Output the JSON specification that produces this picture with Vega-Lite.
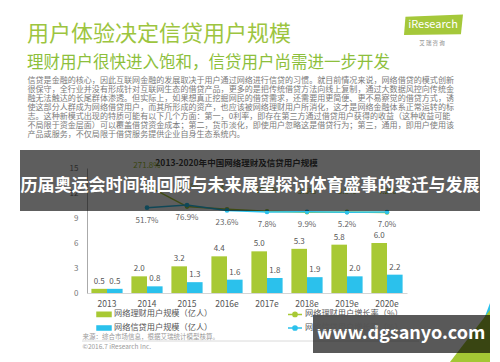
{
  "$schema": "https://vega.github.io/schema/vega-lite/v6.json",
  "width": 320,
  "height": 125,
  "autosize": {"type": "none"},
  "padding": {"left": 87, "top": 168, "right": 93, "bottom": 69},
  "background": "white",
  "config": {"font": "Noto Sans CJK SC", "view": {"stroke": null}},
  "title": {
    "text": "用户体验决定信贷用户规模",
    "subtitle": "理财用户很快进入饱和，信贷用户尚需进一步开发",
    "anchor": "start",
    "frame": "group",
    "dx": -60,
    "offset": -58,
    "fontSize": 22,
    "fontWeight": "normal",
    "color": "#9dc53f",
    "subtitleFontSize": 16.5,
    "subtitleColor": "#8dbf3c",
    "subtitleFontWeight": "normal",
    "subtitlePadding": 9
  },
  "datasets": {
    "bars": [
      {"year": "2013", "series": "网络理财用户规模（亿人）", "value": 0.5},
      {"year": "2013", "series": "网络信贷用户规模（亿人）", "value": 0.5},
      {"year": "2014", "series": "网络理财用户规模（亿人）", "value": 2.0},
      {"year": "2014", "series": "网络信贷用户规模（亿人）", "value": 0.8},
      {"year": "2015", "series": "网络理财用户规模（亿人）", "value": 3.2},
      {"year": "2015", "series": "网络信贷用户规模（亿人）", "value": 1.3},
      {"year": "2016e", "series": "网络理财用户规模（亿人）", "value": 4.4},
      {"year": "2016e", "series": "网络信贷用户规模（亿人）", "value": 1.6},
      {"year": "2017e", "series": "网络理财用户规模（亿人）", "value": 5.0},
      {"year": "2017e", "series": "网络信贷用户规模（亿人）", "value": 1.8},
      {"year": "2018e", "series": "网络理财用户规模（亿人）", "value": 5.3},
      {"year": "2018e", "series": "网络信贷用户规模（亿人）", "value": 1.9},
      {"year": "2019e", "series": "网络理财用户规模（亿人）", "value": 5.8},
      {"year": "2019e", "series": "网络信贷用户规模（亿人）", "value": 2.0},
      {"year": "2020e", "series": "网络理财用户规模（亿人）", "value": 6.0},
      {"year": "2020e", "series": "网络信贷用户规模（亿人）", "value": 2.2}
    ],
    "growth": [
      {"year": "2014", "series": "网络理财用户增长率（%）", "rate": 2.718},
      {"year": "2015", "series": "网络理财用户增长率（%）", "rate": 0.624},
      {"year": "2016e", "series": "网络理财用户增长率（%）", "rate": 0.347},
      {"year": "2017e", "series": "网络理财用户增长率（%）", "rate": 0.151},
      {"year": "2018e", "series": "网络理财用户增长率（%）", "rate": 0.056},
      {"year": "2019e", "series": "网络理财用户增长率（%）", "rate": 0.085},
      {"year": "2020e", "series": "网络理财用户增长率（%）", "rate": 0.042},
      {"year": "2014", "series": "网络信贷用户增长率（%）", "rate": 0.517},
      {"year": "2015", "series": "网络信贷用户增长率（%）", "rate": 0.769},
      {"year": "2016e", "series": "网络信贷用户增长率（%）", "rate": 0.236},
      {"year": "2017e", "series": "网络信贷用户增长率（%）", "rate": 0.078},
      {"year": "2018e", "series": "网络信贷用户增长率（%）", "rate": 0.099},
      {"year": "2019e", "series": "网络信贷用户增长率（%）", "rate": 0.052},
      {"year": "2020e", "series": "网络信贷用户增长率（%）", "rate": 0.070}
    ],
    "banner": [{"label": "历届奥运会时间轴回顾与未来展望探讨体育盛事的变迁与发展"}],
    "watermark": [{"label": "www.dgsanyo.com"}],
    "logo": [{"label": "iResearch", "sub": "艾  瑞  咨  询"}]
  },
  "resolve": {"scale": {"x": "independent", "y": "independent"}},
  "layer": [
    {
      "data": {"name": "bars"},
      "encoding": {
        "x": {
          "field": "year", "type": "ordinal",
          "scale": {"domain": ["2013","2014","2015","2016e","2017e","2018e","2019e","2020e"], "paddingInner": 0.22, "paddingOuter": 0.11},
          "axis": {
            "labelAngle": 0, "labelFontSize": 8.5, "labelColor": "#555", "labelPadding": 6,
            "ticks": false, "domainColor": "#d6d6d6", "grid": false,
            "title": ["来源：综合市场信息，根据艾瑞统计模型核算。", "©2016.7 iResearch Inc."],
            "titleX": -5, "titleY": 40, "titleAlign": "left", "titleBaseline": "top",
            "titleFontSize": 6.5, "titleFontWeight": "normal", "titleColor": "#9a9a9a",
            "titleLineHeight": 10, "titleLimit": 1000
          }
        },
        "xOffset": {"field": "series", "type": "nominal", "scale": {"domain": ["网络理财用户规模（亿人）", "网络信贷用户规模（亿人）"]}},
        "y": {
          "field": "value", "type": "quantitative",
          "scale": {"domain": [0, 15], "nice": false},
          "axis": {
            "values": [0, 3, 6, 9, 12, 15], "ticks": false, "grid": false,
            "labelFontSize": 8, "labelColor": "#777", "labelPadding": 9, "domainColor": "#aaa",
            "title": "2013-2020年中国网络理财及信贷用户规模",
            "titleAngle": 0, "titleX": 149, "titleY": -6, "titleAlign": "center", "titleBaseline": "middle",
            "titleFontSize": 8.5, "titleFontWeight": "bold", "titleColor": "#404040", "titleLimit": 1000
          }
        }
      },
      "layer": [
        {
          "mark": {"type": "bar"},
          "encoding": {
            "color": {
              "field": "series", "type": "nominal",
              "scale": {
                "domain": ["网络理财用户规模（亿人）", "网络信贷用户规模（亿人）", "网络理财用户增长率（%）", "网络信贷用户增长率（%）"],
                "range": ["#a8c934", "#2bc1ec", "#a8c934", "#2bc1ec"]
              },
              "legend": {
                "orient": "none", "legendX": 9, "legendY": 138,
                "columns": 2, "columnPadding": 72, "rowPadding": -3, "padding": 0,
                "title": null, "labelFontSize": 8.2, "labelColor": "#555", "labelLimit": 300,
                "labelOffset": 2, "symbolSize": 196, "symbolStrokeWidth": 1.5,
                "encode": {
                  "symbols": {
                    "update": {
                      "shape": {"signal": "datum.index < 2 ? 'M-1,-0.3H1V0.3H-1Z' : 'M-1,0H1M0.3,0A0.3,0.3,0,1,1,-0.3,0A0.3,0.3,0,1,1,0.3,0'"},
                      "fill": {"signal": "datum.index % 2 == 0 ? '#a8c934' : '#2bc1ec'"},
                      "stroke": {"signal": "datum.index % 2 == 0 ? '#a8c934' : '#2bc1ec'"},
                      "strokeWidth": {"value": 1.5},
                      "opacity": {"value": 1}
                    }
                  }
                }
              }
            }
          }
        },
        {
          "mark": {"type": "text", "baseline": "bottom", "dy": -3, "fontSize": 8, "color": "#555"},
          "encoding": {"text": {"field": "value", "type": "quantitative", "format": ".1f"}}
        }
      ]
    },
    {
      "data": {"name": "growth"},
      "encoding": {
        "x": {
          "field": "year", "type": "ordinal",
          "scale": {"domain": ["2013","2014","2015","2016e","2017e","2018e","2019e","2020e"]},
          "axis": {
            "orient": "top", "labels": false, "ticks": false, "domain": false, "grid": false,
            "title": [
              "信贷是金融的核心，因此互联网金融的发展取决于用户通过网络进行信贷的习惯。就目前情况来说，网络借贷的模式创新",
              "很保守，全行业并没有形成针对互联网生态的借贷产品，更多的是把传统借贷方法向线上复制，通过大数据风控向传统金",
              "融无法触达的长尾群体渗透。但实际上，如果想真正挖掘网民的借贷需求，还需要用更简便、更不易察觉的借贷方式，诱",
              "使这部分人群成为网络借贷用户，而其所形成的资产，也应该被网络理财用户所消化，这才是网络金融体系正常运转的标",
              "志。这种新模式出现的特质可能有以下几个方面：第一，0利率，即存在第三方通过借贷用户获得的收益（这种收益可能",
              "不局限于资金层面）可以覆盖借贷资金成本；第二，货币淡化，即使用户忽略这是借贷行为；第三，通用，即用户使用该",
              "产品或服务，不仅局限于借贷服务提供企业自身生态系统内。"
            ],
            "titleX": -60, "titleY": -92, "titleAlign": "left", "titleBaseline": "top",
            "titleFontSize": 8.05, "titleFontWeight": "normal", "titleColor": "#7a7a7a",
            "titleLineHeight": 9, "titleLimit": 2000
          }
        },
        "y": {
          "field": "rate", "type": "quantitative",
          "scale": {"domain": [-8.02, 4.48], "nice": false, "zero": false},
          "axis": null
        },
        "color": {"field": "series", "type": "nominal"}
      },
      "layer": [
        {"mark": {"type": "line", "strokeWidth": 1.5, "point": {"filled": true, "size": 22}}},
        {
          "transform": [{"filter": "datum.series == '网络理财用户增长率（%）'"}],
          "mark": {"type": "text", "dy": -20, "fontSize": 8, "color": "#9bbb2e"},
          "encoding": {"text": {"field": "rate", "type": "quantitative", "format": ".1%"}, "color": {"value": "#9bbb2e"}}
        },
        {
          "transform": [{"filter": "datum.series == '网络信贷用户增长率（%）'"}],
          "mark": {"type": "text", "dy": 13, "fontSize": 8, "color": "#666"},
          "encoding": {"text": {"field": "rate", "type": "quantitative", "format": ".1%"}, "color": {"value": "#666"}}
        }
      ]
    },
    {
      "layer": [
        {
          "data": {"name": "banner"},
          "mark": {"type": "rect", "color": "#000", "opacity": 0.63},
          "encoding": {
            "x": {"datum": -1.675, "type": "quantitative", "scale": {"domain": [0, 8], "nice": false, "zero": false}, "axis": null},
            "x2": {"datum": 9.825},
            "y": {"datum": 17.16, "type": "quantitative", "scale": {"domain": [0, 15], "nice": false, "zero": false}, "axis": null},
            "y2": {"datum": 9.84}
          }
        },
        {
          "data": {"name": "banner"},
          "mark": {"type": "text", "color": "white", "fontSize": 17, "fontWeight": "bold", "align": "center", "baseline": "middle"},
          "encoding": {
            "x": {"datum": 4.075, "type": "quantitative"},
            "y": {"datum": 12.84, "type": "quantitative"},
            "text": {"field": "label"}
          }
        },
        {
          "data": {"name": "logo"},
          "mark": {"type": "rule", "color": "#d0d0d0", "strokeWidth": 0.8},
          "encoding": {
            "x": {"datum": -0.125, "type": "quantitative"},
            "x2": {"datum": 8.3},
            "y": {"datum": -5.76, "type": "quantitative"}
          }
        },
        {
          "data": {"name": "logo"},
          "mark": {"type": "point", "filled": true, "opacity": 1, "color": "#2bc1ec", "shape": "M0.385,-0.635L0.385,-0.019L0.154,-0.019Z", "size": 10816},
          "encoding": {
            "x": {"datum": 9.575, "type": "quantitative"},
            "y": {"datum": -5.16, "type": "quantitative"}
          }
        },
        {
          "data": {"name": "logo"},
          "mark": {"type": "point", "filled": true, "opacity": 1, "color": "#a3c734", "shape": "M0.385,-0.5L0.385,0.5L-0.385,0.5Z", "size": 10816},
          "encoding": {
            "x": {"datum": 9.575, "type": "quantitative"},
            "y": {"datum": -5.16, "type": "quantitative"}
          }
        },
        {
          "data": {"name": "watermark"},
          "mark": {"type": "rect", "color": "#000", "opacity": 0.65},
          "encoding": {
            "x": {"datum": 5.65, "type": "quantitative"},
            "x2": {"datum": 10.075},
            "y": {"datum": -2.64, "type": "quantitative"},
            "y2": {"datum": -7.2}
          }
        },
        {
          "data": {"name": "watermark"},
          "mark": {"type": "text", "color": "white", "fontSize": 18, "fontWeight": "bold", "align": "center", "baseline": "middle"},
          "encoding": {
            "x": {"datum": 7.85, "type": "quantitative"},
            "y": {"datum": -4.92, "type": "quantitative"},
            "text": {"field": "label"}
          }
        },
        {
          "data": {"name": "logo"},
          "mark": {"type": "point", "filled": true, "opacity": 1, "color": "#a5c83a", "shape": "M-0.95,-0.3L1,-0.37L0.93,0.3L-1,0.32Z", "size": 3481},
          "encoding": {
            "x": {"datum": 8.6625, "type": "quantitative"},
            "y": {"datum": 32.1, "type": "quantitative"}
          }
        },
        {
          "data": {"name": "logo"},
          "mark": {"type": "text", "color": "white", "fontSize": 11, "align": "center", "baseline": "middle"},
          "encoding": {
            "x": {"datum": 8.65, "type": "quantitative"},
            "y": {"datum": 32.15, "type": "quantitative"},
            "text": {"field": "label"}
          }
        },
        {
          "data": {"name": "logo"},
          "mark": {"type": "text", "color": "#888", "fontSize": 5.5, "align": "center", "baseline": "middle"},
          "encoding": {
            "x": {"datum": 8.625, "type": "quantitative"},
            "y": {"datum": 30.0, "type": "quantitative"},
            "text": {"field": "sub"}
          }
        }
      ]
    }
  ]
}
